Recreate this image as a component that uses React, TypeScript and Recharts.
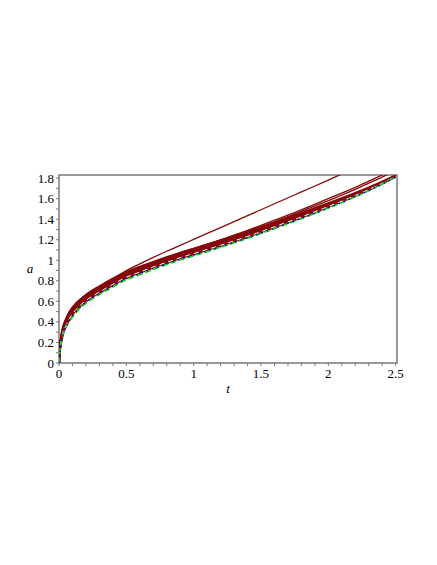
import { LineChart, Line, XAxis, YAxis, ReferenceArea, Customized } from 'recharts';

// time grid shared by every curve
const T = [0, 0.005, 0.015, 0.03, 0.05, 0.08, 0.12, 0.17, 0.23, 0.3, 0.4, 0.5, 0.6, 0.7, 0.8, 0.9, 1.0, 1.2, 1.4, 1.6, 1.8, 2.0, 2.2, 2.4, 2.5];

// main bundle (dark red)
const R1 = [0, 0.15, 0.25, 0.35, 0.42, 0.5, 0.57, 0.63, 0.69, 0.745, 0.82, 0.885, 0.935, 0.983, 1.028, 1.072, 1.112, 1.192, 1.274, 1.368, 1.46, 1.555, 1.655, 1.765, 1.825];
const R2 = [0, 0.135, 0.235, 0.33, 0.4, 0.48, 0.55, 0.61, 0.67, 0.727, 0.802, 0.87, 0.92, 0.97, 1.015, 1.06, 1.1, 1.18, 1.262, 1.355, 1.448, 1.545, 1.646, 1.76, 1.822];
const R3 = [0, 0.12, 0.22, 0.315, 0.385, 0.46, 0.535, 0.595, 0.655, 0.71, 0.785, 0.855, 0.905, 0.955, 1.0, 1.045, 1.085, 1.165, 1.248, 1.342, 1.436, 1.535, 1.64, 1.755, 1.82];
const R4 = [0, 0.11, 0.205, 0.3, 0.37, 0.445, 0.52, 0.58, 0.64, 0.695, 0.77, 0.84, 0.89, 0.94, 0.985, 1.03, 1.07, 1.15, 1.235, 1.33, 1.425, 1.525, 1.632, 1.75, 1.818];
const R5 = [0, 0.1, 0.195, 0.29, 0.355, 0.43, 0.505, 0.57, 0.63, 0.685, 0.76, 0.83, 0.88, 0.93, 0.975, 1.02, 1.06, 1.142, 1.228, 1.322, 1.418, 1.52, 1.628, 1.748, 1.816];

// coloured curves at the lower edge of the bundle
const WHITE = [0, 0.105, 0.2, 0.295, 0.36, 0.437, 0.51, 0.575, 0.635, 0.69, 0.765, 0.835, 0.885, 0.935, 0.98, 1.025, 1.065, 1.146, 1.232, 1.326, 1.422, 1.523, 1.63, 1.75, 1.817];
const BLUE = [0, 0.095, 0.185, 0.28, 0.348, 0.42, 0.49, 0.56, 0.62, 0.675, 0.75, 0.82, 0.87, 0.92, 0.965, 1.01, 1.05, 1.132, 1.218, 1.312, 1.408, 1.51, 1.62, 1.742, 1.812];
const GREEN = [0, 0.09, 0.18, 0.27, 0.34, 0.41, 0.48, 0.55, 0.61, 0.665, 0.74, 0.81, 0.86, 0.91, 0.958, 1.003, 1.043, 1.126, 1.213, 1.308, 1.405, 1.508, 1.618, 1.742, 1.812];

// curves leaving the bundle
const A = [0, 0.15, 0.25, 0.35, 0.42, 0.5, 0.57, 0.63, 0.69, 0.745, 0.82, 0.9, 0.965, 1.028, 1.088, 1.145, 1.203, 1.318, 1.434, 1.55, 1.665, 1.78, 1.9, 2.02, 2.08];
const B = [0, 0.15, 0.25, 0.35, 0.42, 0.5, 0.57, 0.63, 0.69, 0.745, 0.82, 0.885, 0.935, 0.983, 1.028, 1.072, 1.113, 1.2, 1.29, 1.39, 1.49, 1.6, 1.71, 1.83, 1.89];
const C = [0, 0.15, 0.25, 0.35, 0.42, 0.5, 0.57, 0.63, 0.69, 0.745, 0.82, 0.885, 0.935, 0.983, 1.028, 1.072, 1.112, 1.195, 1.28, 1.375, 1.475, 1.58, 1.69, 1.81, 1.87];

const X_TICKS = [0, 0.1, 0.2, 0.3, 0.4, 0.5, 0.6, 0.7, 0.8, 0.9, 1, 1.1, 1.2, 1.3, 1.4, 1.5, 1.6, 1.7, 1.8, 1.9, 2, 2.1, 2.2, 2.3, 2.4, 2.5];
const X_LABELS = [0, 0.5, 1, 1.5, 2, 2.5];
const Y_TICKS = [0, 0.1, 0.2, 0.3, 0.4, 0.5, 0.6, 0.7, 0.8, 0.9, 1, 1.1, 1.2, 1.3, 1.4, 1.5, 1.6, 1.7, 1.8];
const Y_LABELS = [0, 0.2, 0.4, 0.6, 0.8, 1, 1.2, 1.4, 1.6, 1.8];

const data = T.map((t, i) => ({
  t,
  r1: R1[i], r2: R2[i], r3: R3[i], r4: R4[i], r5: R5[i],
  white: WHITE[i], blue: BLUE[i], green: GREEN[i],
  a: A[i], b: B[i], c: C[i],
}));

const X_DOMAIN = [0, 2.51];
const Y_DOMAIN = [0, 1.83];
const RED = '#850808';
const BOX = '#7a7a7a';
const SERIF = 'Liberation Serif';

const XTick = ({ x, y, payload }: any) => (
  <text x={x} y={y + 10} textAnchor="middle" fontFamily={SERIF} fontSize={13} fill="#000">
    {X_LABELS.includes(payload.value) ? String(payload.value) : ''}
  </text>
);

const YTick = ({ x, y, payload }: any) => (
  <text x={x} y={y + 4.5} textAnchor="end" fontFamily={SERIF} fontSize={13} fill="#000">
    {Y_LABELS.includes(payload.value) ? String(payload.value) : ''}
  </text>
);

const AxisTitles = () => (
  <g>
    <text x={30} y={273} textAnchor="middle" fontFamily={SERIF} fontStyle="italic" fontSize={13} fill="#000">a</text>
    <text x={228} y={393} textAnchor="middle" fontFamily={SERIF} fontStyle="italic" fontSize={13} fill="#000">t</text>
  </g>
);

const redLine = (key: string, w: number) => (
  <Line key={key} type="monotone" dataKey={key} stroke={RED} strokeWidth={w} dot={false} isAnimationActive={false} />
);

const App = () => {
  return (
    <div style={{ position: 'absolute', left: 0, top: 0, background: '#fff' }}>
      <LineChart width={437} height={565} data={data} margin={{ top: 175, right: 40, bottom: 172, left: 0 }}>
        <XAxis
          dataKey="t" type="number" domain={X_DOMAIN} allowDataOverflow ticks={X_TICKS}
          height={30} tickSize={3} tickMargin={2} interval={0}
          axisLine={false} tickLine={{ stroke: BOX }}
          tick={<XTick />}
        />
        <YAxis
          type="number" domain={Y_DOMAIN} allowDataOverflow ticks={Y_TICKS}
          width={59} tickSize={3} tickMargin={2} interval={0}
          axisLine={false} tickLine={{ stroke: BOX }}
          tick={<YTick />}
        />

        {redLine('a', 1.3)}
        {redLine('b', 1.3)}
        {redLine('c', 1.3)}
        {redLine('r1', 2.3)}
        {redLine('r2', 2.3)}
        {redLine('r3', 2.3)}
        {redLine('r4', 2.3)}
        {redLine('r5', 2.3)}
        <Line type="monotone" dataKey="white" stroke="#ffffff" strokeWidth={1} strokeDasharray="5 4" dot={false} isAnimationActive={false} />
        <Line type="monotone" dataKey="green" stroke="#00e000" strokeWidth={1.6} strokeDasharray="6 3" dot={false} isAnimationActive={false} />
        <Line type="monotone" dataKey="blue" stroke="#0000ff" strokeWidth={1.6} strokeDasharray="1.5 4" dot={false} isAnimationActive={false} />

        <ReferenceArea x1={X_DOMAIN[0]} x2={X_DOMAIN[1]} y1={Y_DOMAIN[0]} y2={Y_DOMAIN[1]}
          fill="none" fillOpacity={0} stroke={BOX} strokeWidth={1.5} ifOverflow="visible" />
        <Customized component={AxisTitles} />
      </LineChart>
    </div>
  );
};

export default App;
